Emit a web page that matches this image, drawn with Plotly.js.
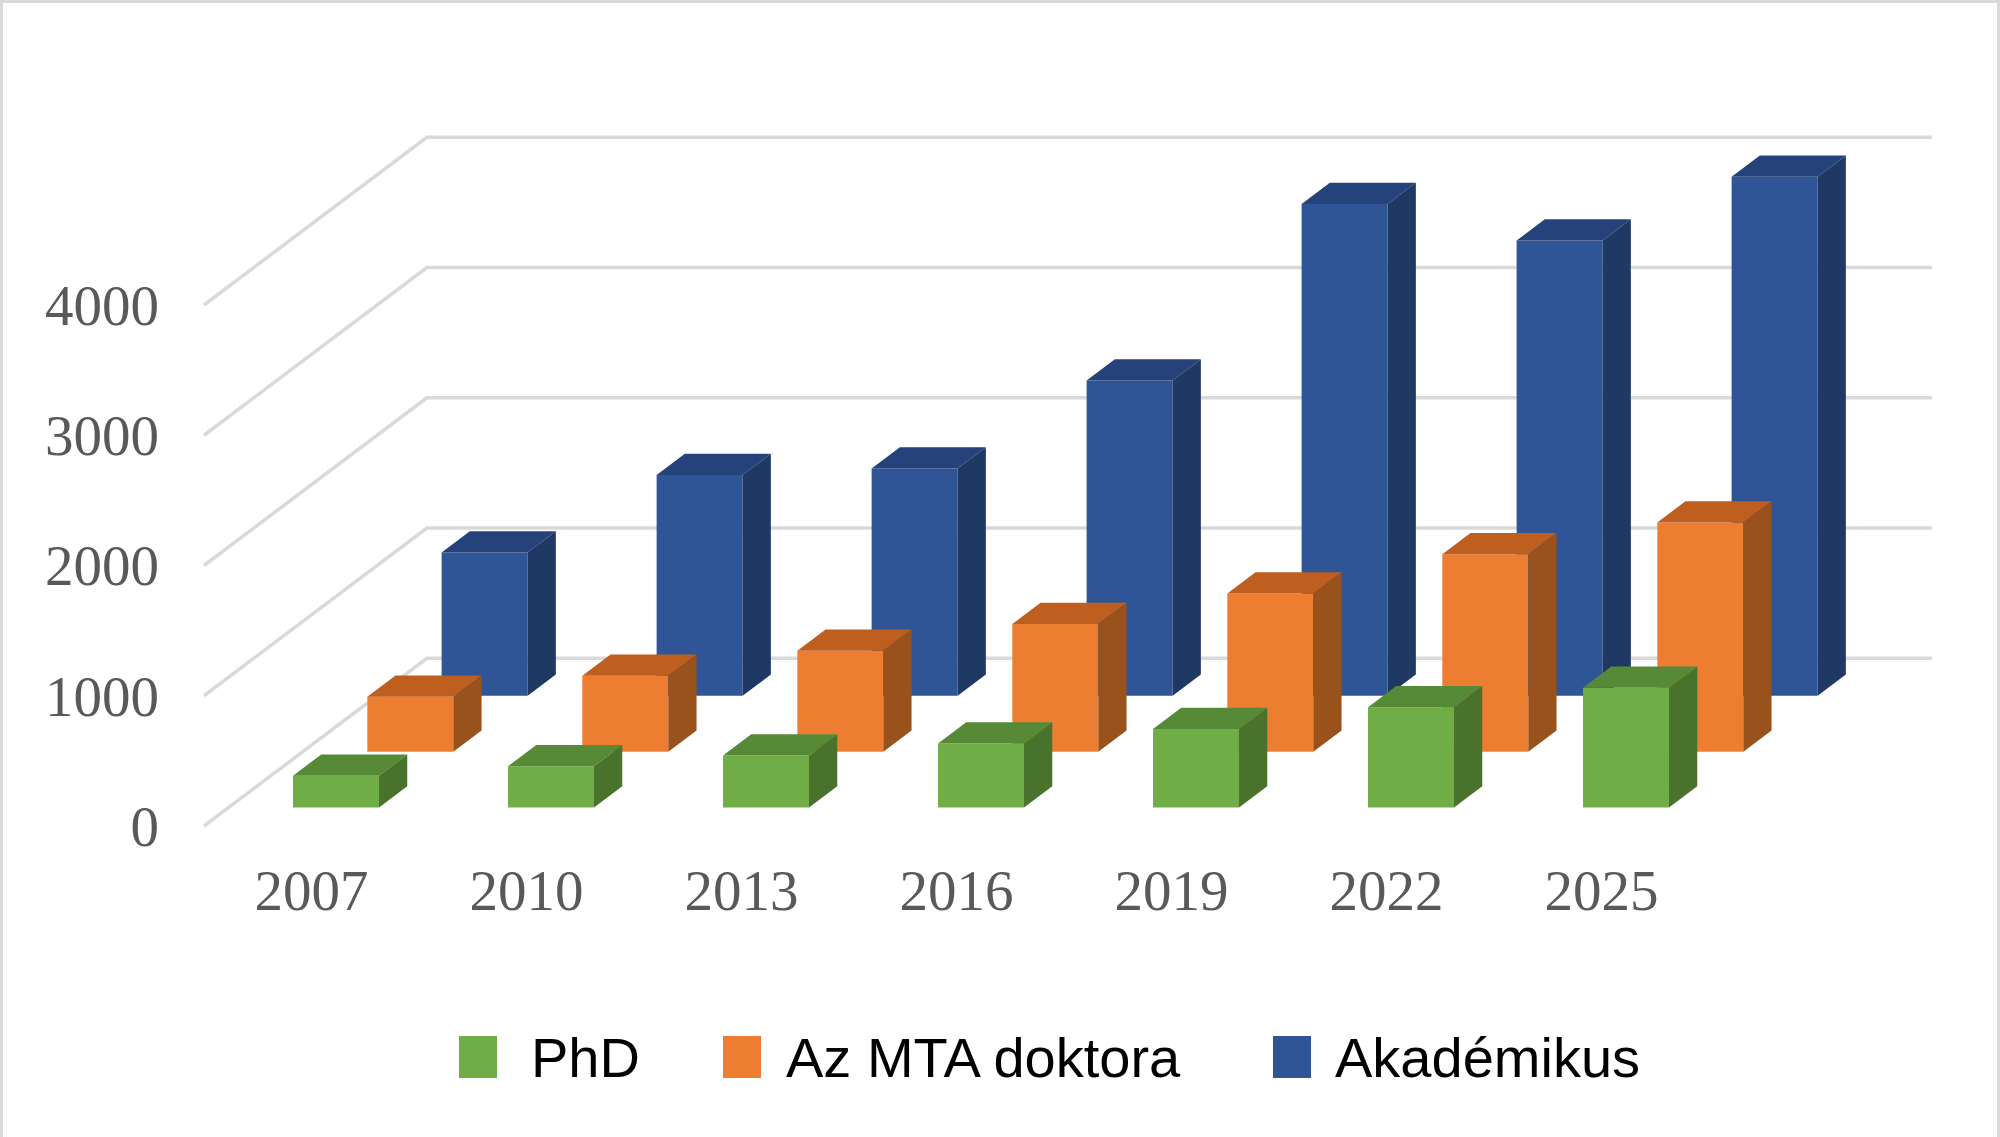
<!DOCTYPE html>
<html>
<head>
<meta charset="utf-8">
<script src="https://cdn.plot.ly/plotly-3.0.1.min.js"></script>
<style>
  html, body { margin: 0; padding: 0; background: #ffffff; }
  #chart { width: 2000px; height: 1137px; }
</style>
</head>
<body>
<div id="chart"></div>
<script>
// ---------------- data ----------------
const years = ['2007', '2010', '2013', '2016', '2019', '2022', '2025'];
const phd = [245, 317, 400, 492, 603, 770, 920];
const mtaDoktora = [421, 582, 775, 980, 1215, 1515, 1760];
const akademikus = [1100, 1695, 1745, 2420, 3775, 3495, 3985];
const yTicks = [0, 1000, 2000, 3000, 4000];
const seriesNames = ['PhD', 'Az MTA doktora', 'Akadémikus'];

// ---------------- layout geometry ----------------
const W = 2000, H = 1137;
const PL = 196, PR = 1960, PT = 100, PB = 838;   // plot area in pixels
const X0PX = 311.5, CATPX = 215;                // pixel of category 0, pixels per category
const Y0PX = 826, VPX = 0.13025;                // pixel of value 0 (front), pixels per value unit
const xRange = [(PL - X0PX) / CATPX, (PR - X0PX) / CATPX];
const yRange = [(Y0PX - PB) / VPX, (Y0PX - PT) / VPX];
const DEPTH_X = 74.3 / CATPX;     // oblique shift per depth row (category units)
const DEPTH_Y = 55.9 / VPX;       // oblique shift per depth row (value units)
const ROWS = 3;
const BAR_W = 0.4, BAR_D = 0.38, ROW_FRONT = 0.33;

const colors = [
  {front: '#70AD47', top: '#568A36', side: '#49722C'},
  {front: '#ED7D31', top: '#BE5F20', side: '#9A521D'},
  {front: '#2F5597', top: '#25437A', side: '#1F3864'}
];

const px2paperX = p => (p - PL) / (PR - PL);
const px2paperY = p => (PB - p) / (PB - PT);

const traces = [];

// gridlines (side wall diagonals + back wall horizontals)
const gx = [], gy = [];
const floorLeft = -0.5, floorRight = years.length - 0.5;
yTicks.forEach(t => {
  gx.push(floorLeft, floorLeft + ROWS * DEPTH_X, floorRight + ROWS * DEPTH_X, null);
  gy.push(t, t + ROWS * DEPTH_Y, t + ROWS * DEPTH_Y, null);
});
traces.push({
  type: 'scatter', mode: 'lines', x: gx, y: gy, xaxis: 'x', yaxis: 'y',
  line: {color: '#D9D9D9', width: 3.5}, hoverinfo: 'skip', showlegend: false
});

// bars, back row first
const allSeries = [phd, mtaDoktora, akademikus];
const axisIds = {2: ['x2', 'y2'], 1: ['x3', 'y3'], 0: ['x4', 'y4']};
[2, 1, 0].forEach(k => {
  const vals = allSeries[k];
  const [xa, ya] = axisIds[k];
  const d = k + ROW_FRONT;
  const base = d * DEPTH_Y;
  const centers = years.map((_, i) => i + d * DEPTH_X);
  const bdx = BAR_D * DEPTH_X, bdy = BAR_D * DEPTH_Y;
  traces.push({
    type: 'bar', name: seriesNames[k], x: centers, y: vals,
    base: vals.map(() => base), width: BAR_W, xaxis: xa, yaxis: ya,
    marker: {color: colors[k].front, line: {width: 0}},
    hoverinfo: 'skip', showlegend: false
  });
  const tx = [], ty = [], sx = [], sy = [];
  vals.forEach((v, i) => {
    const x0 = centers[i] - BAR_W / 2, x1 = centers[i] + BAR_W / 2;
    const top = base + v;
    tx.push(x0, x1, x1 + bdx, x0 + bdx, x0, null);
    ty.push(top, top, top + bdy, top + bdy, top, null);
    sx.push(x1, x1, x1 + bdx, x1 + bdx, x1, null);
    sy.push(base, top, top + bdy, base + bdy, base, null);
  });
  traces.push({
    type: 'scatter', mode: 'lines', x: tx, y: ty, xaxis: xa, yaxis: ya,
    fill: 'toself', fillcolor: colors[k].top, line: {width: 0, color: colors[k].top},
    hoverinfo: 'skip', showlegend: false
  });
  traces.push({
    type: 'scatter', mode: 'lines', x: sx, y: sy, xaxis: xa, yaxis: ya,
    fill: 'toself', fillcolor: colors[k].side, line: {width: 0, color: colors[k].side},
    hoverinfo: 'skip', showlegend: false
  });
});

const hiddenX = (n) => ({overlaying: 'x', range: xRange, visible: false, anchor: 'y' + n, fixedrange: true});
const hiddenY = (n) => ({overlaying: 'y', range: yRange, visible: false, anchor: 'x' + n, fixedrange: true});

// custom legend
const legendItems = [
  {sq: [459, 497], text: 529},
  {sq: [723, 761], text: 784},
  {sq: [1273, 1311], text: 1333}
];
const shapes = [];
const annotations = [];
legendItems.forEach((it, k) => {
  shapes.push({
    type: 'rect', xref: 'paper', yref: 'paper',
    x0: px2paperX(it.sq[0]), x1: px2paperX(it.sq[1]),
    y0: px2paperY(1036), y1: px2paperY(1078),
    fillcolor: colors[k].front, line: {width: 0}
  });
  annotations.push({
    xref: 'paper', yref: 'paper', x: px2paperX(it.text), y: px2paperY(1057),
    xanchor: 'left', yanchor: 'middle', showarrow: false, text: seriesNames[k],
    font: {family: 'Liberation Sans, Arial, sans-serif', size: 56, color: '#000000'}
  });
});
// outer frame
shapes.push({
  type: 'rect', xref: 'paper', yref: 'paper',
  x0: px2paperX(1.5), x1: px2paperX(1998.5), y0: px2paperY(1145), y1: px2paperY(1.5),
  line: {color: '#D9D9D9', width: 3}, fillcolor: 'rgba(0,0,0,0)'
});

const tickFont = {family: 'Liberation Serif, Times New Roman, serif', size: 57, color: '#595959'};
const layout = {
  width: W, height: H,
  margin: {l: PL, r: W - PR, t: PT, b: H - PB, pad: 0},
  paper_bgcolor: '#ffffff', plot_bgcolor: 'rgba(0,0,0,0)',
  showlegend: false, barmode: 'overlay',
  xaxis: {
    range: xRange, tickmode: 'array', tickvals: years.map((_, i) => i), ticktext: years,
    showgrid: false, zeroline: false, showline: false, ticks: '',
    tickfont: tickFont, ticklabelstandoff: 14, fixedrange: true
  },
  yaxis: {
    range: yRange, tickmode: 'array', tickvals: yTicks, ticktext: yTicks.map(String),
    showgrid: false, zeroline: false, showline: false, ticks: '',
    tickfont: tickFont, ticklabelstandoff: 36, fixedrange: true
  },
  xaxis2: hiddenX(2), yaxis2: hiddenY(2),
  xaxis3: hiddenX(3), yaxis3: hiddenY(3),
  xaxis4: hiddenX(4), yaxis4: hiddenY(4),
  shapes: shapes, annotations: annotations
};

Plotly.newPlot('chart', traces, layout, {displayModeBar: false, staticPlot: true});
</script>
</body>
</html>
